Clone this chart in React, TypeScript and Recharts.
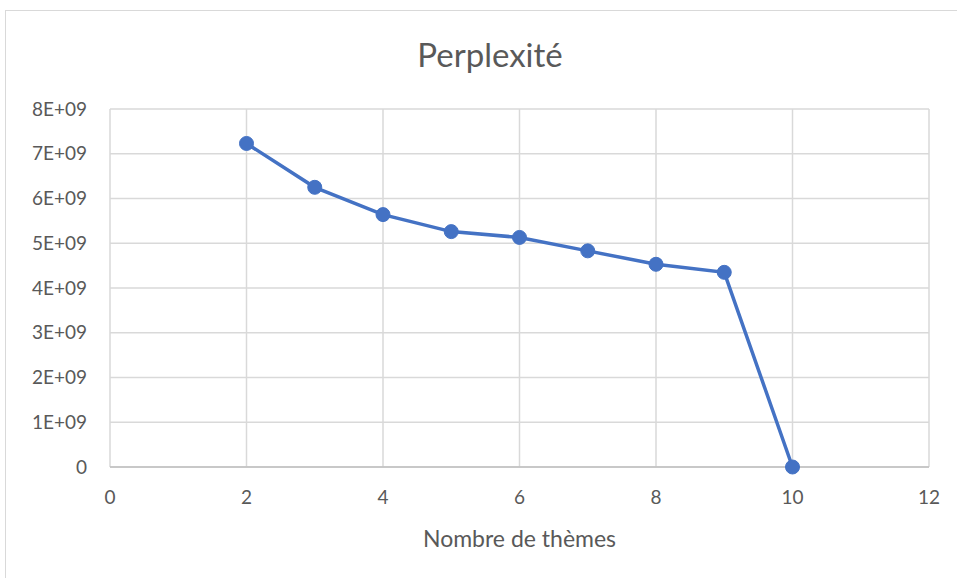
import React from "react";
import { LineChart, Line, XAxis, YAxis, CartesianGrid } from "recharts";

const themes = [2, 3, 4, 5, 6, 7, 8, 9, 10];
const perplexity = [7.23e9, 6.25e9, 5.64e9, 5.26e9, 5.13e9, 4.83e9, 4.53e9, 4.35e9, 0];
const xTicks = [0, 2, 4, 6, 8, 10, 12];
const yTicks = [0, 1e9, 2e9, 3e9, 4e9, 5e9, 6e9, 7e9, 8e9];

const data = themes.map((t, i) => ({ t, p: perplexity[i] }));

const FONT = "Lato, 'Open Sans', sans-serif";

const fmtY = (v: number) => (v === 0 ? "0" : `${Math.round(v / 1e9)}E+09`);

export default function App() {
  return (
    <div
      style={{
        position: "absolute",
        left: 0,
        top: 0,
        width: 957,
        height: 578,
        overflow: "hidden",
        background: "#fff",
        fontFamily: FONT,
      }}
    >
      <div
        style={{
          position: "absolute",
          left: 5,
          top: 10,
          width: 1000,
          height: 700,
          border: "1px solid #d9d9d9",
        }}
      />
      <LineChart
        width={957}
        height={578}
        data={data}
        margin={{ top: 109, right: 28, left: 0, bottom: 0 }}
        style={{ position: "absolute", left: 0, top: 0 }}
      >
        <CartesianGrid stroke="#d9d9d9" strokeWidth={1.5} />
        <XAxis
          dataKey="t"
          type="number"
          domain={[0, 12]}
          ticks={xTicks}
          height={111}
          axisLine={{ stroke: "#bfbfbf", strokeWidth: 1.5 }}
          tickLine={false}
          tickMargin={18}
          tick={{ fill: "#595959", fontSize: 19, fontFamily: FONT }}
        />
        <YAxis
          type="number"
          domain={[0, 8e9]}
          ticks={yTicks}
          width={110}
          axisLine={false}
          tickLine={false}
          tickMargin={17}
          tickFormatter={fmtY}
          tick={{ fill: "#595959", fontSize: 19, fontFamily: FONT }}
        />
        <Line
          dataKey="p"
          stroke="#4472C4"
          strokeWidth={3.5}
          dot={{ r: 7, fill: "#4472C4", stroke: "#4472C4", strokeWidth: 1 }}
          isAnimationActive={false}
        />
      </LineChart>
      <div
        style={{
          position: "absolute",
          left: 0,
          width: 980,
          top: 35,
          textAlign: "center",
          fontSize: 33,
          color: "#595959",
          lineHeight: "38px",
        }}
      >
        Perplexité
      </div>
      <div
        style={{
          position: "absolute",
          left: 110,
          width: 819,
          top: 524,
          textAlign: "center",
          fontSize: 23,
          color: "#595959",
          lineHeight: "28px",
        }}
      >
        Nombre de thèmes
      </div>
    </div>
  );
}
